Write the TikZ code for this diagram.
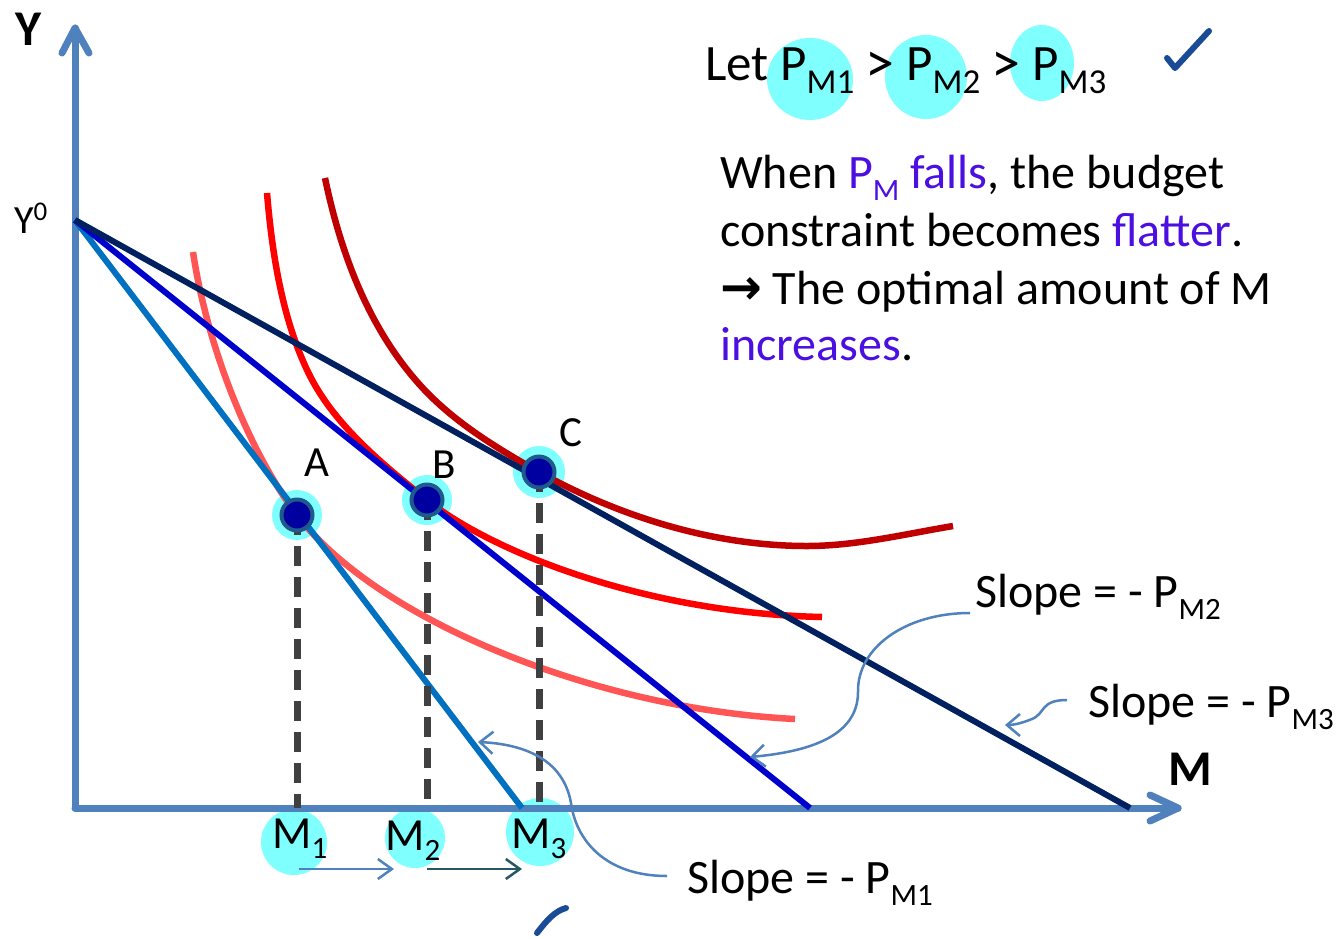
\documentclass[tikz,border=0pt]{standalone}
\usepackage{fontspec}
\setmainfont{Carlito}
\newfontfamily\dejavu{DejaVu Sans}
\usetikzlibrary{arrows.meta}
\definecolor{axisblue}{RGB}{79,129,189}
\definecolor{lblue}{RGB}{0,112,192}
\definecolor{mblue}{RGB}{0,0,204}
\definecolor{navy}{RGB}{0,32,96}
\definecolor{lred}{RGB}{255,85,85}
\definecolor{mred}{RGB}{255,0,0}
\definecolor{dred}{RGB}{192,0,0}
\definecolor{hl}{RGB}{128,255,255}
\definecolor{ptfill}{RGB}{0,0,160}
\definecolor{ptedge}{RGB}{31,90,140}
\definecolor{dashgray}{RGB}{64,64,64}
\definecolor{purp}{RGB}{75,15,225}
\definecolor{tealdk}{RGB}{38,88,100}
\definecolor{checkblue}{RGB}{25,75,150}
\newcommand\subL[1]{\raisebox{-13pt}{\fontsize{35}{35}\selectfont #1}}
\newcommand\subS[1]{\raisebox{-12pt}{\fontsize{31}{31}\selectfont #1}}
\newcommand\subM[1]{\raisebox{-10pt}{\fontsize{31}{31}\selectfont #1}}
\newcommand\bigGt{\raisebox{-2pt}{\fontsize{58}{58}\selectfont >}}
\tikzset{
  axisline/.style={draw=axisblue, line width=7pt, line cap=round, line join=round},
  budget/.style={line width=6pt},
  indiff/.style={line width=6.5pt},
  dashln/.style={draw=dashgray, line width=7pt, dash pattern=on 20pt off 11pt},
  ptnode/.style={circle, fill=ptfill, draw=ptedge, line width=4pt, minimum size=31pt, inner sep=0pt},
  txtbig/.style={inner sep=0pt, anchor=base west, font=\fontsize{51}{56}\selectfont},
  txt/.style={inner sep=0pt, anchor=base west, font=\fontsize{48}{56}\selectfont},
  mlbl/.style={inner sep=0pt, anchor=base west, font=\fontsize{46}{50}\selectfont},
  ptlbl/.style={inner sep=0pt, anchor=base west, font=\fontsize{43}{50}\selectfont},
  axlbl/.style={inner sep=0pt, anchor=base west, font=\bfseries\fontsize{50}{50}\selectfont},
  callout/.style={draw=axisblue, line width=2.5pt, -{Straight Barb[length=13pt,width=22pt]}},
  marr/.style={line width=2.5pt, -{Straight Barb[length=14pt,width=20pt]}},
  checkmk/.style={draw=checkblue, line width=6pt, line cap=round, line join=round}
}
\begin{document}
\begin{tikzpicture}[x=1pt,y=-1pt]
\fill[white] (0,0) rectangle (1340,938);
\useasboundingbox (0,0) rectangle (1340,938);

% coordinates
\coordinate (O) at (75,808);
\coordinate (Ytop) at (75,28);
\coordinate (Mend) at (1178,808);
\coordinate (Y0) at (75,220);
\coordinate (E1) at (522,808);
\coordinate (E2) at (810,808);
\coordinate (E3) at (1130,808);
\coordinate (pA) at (297,515);
\coordinate (pB) at (427,500);
\coordinate (pC) at (539,472);

% highlights
\fill[hl] (pA) circle (25pt);
\fill[hl] (pB) circle (25pt);
\fill[hl] (pC) circle (26pt);
\fill[hl] (294,842) circle (33pt);
\fill[hl] (415,838) circle (30pt);
\fill[hl] (540,832) circle (34pt);
\fill[hl] (810,79) ellipse (43pt and 41pt);
\fill[hl] (926,77) ellipse (41pt and 42pt);
\fill[hl] (1042,63) ellipse (32pt and 38pt);

% axes
\draw[axisline] (O) -- (Ytop);
\draw[axisline] (62,53) -- (Ytop) -- (89,53);
\draw[axisline] (O) -- (Mend);
\draw[axisline] (1150,795) -- (Mend) -- (1150,821);

% indifference curves
\draw[indiff, draw=lred] (193,252) .. controls (208,352) and (252,456) .. (pA)
   .. controls (377,620) and (595,709) .. (795,719);
\draw[indiff, draw=mred] (267,193) .. controls (272,253) and (282,318) .. (308,372)
   .. controls (333,424) and (382,464) .. (pB)
   .. controls (489,550) and (642,613) .. (822,617);
\draw[indiff, draw=dred] (325,178) .. controls (340,250) and (366,321) .. (413,377)
   .. controls (447,418) and (493,446) .. (pC)
   .. controls (620,517) and (714,546) .. (807,546)
   .. controls (856,546) and (905,534) .. (953,526);

% budget lines
\draw[budget, draw=lblue] (Y0) -- (E1);
\draw[budget, draw=mblue] (Y0) -- (E2);
\draw[budget, draw=navy] (Y0) -- (E3);

% dashed drop lines
\draw[dashln] (pA) -- (pA |- O);
\draw[dashln] (pB) -- (pB |- O);
\draw[dashln] (pC) -- (pC |- O);

% points
\node[ptnode] (A) at (pA) {};
\node[ptnode] (B) at (pB) {};
\node[ptnode] (C) at (pC) {};
\node[ptlbl] (Alab) at (304,476) {A};
\node[ptlbl] (Blab) at (432,478) {B};
\node[ptlbl] (Clab) at (559,446) {C};

% axis labels
\node[axlbl] (ylab) at (15,45) {Y};
\node[axlbl] (mlab) at (1168,785) {M};
\node[inner sep=0pt, anchor=base west, font=\fontsize{40}{40}\selectfont] (y0lab) at (14,233) {Y\raisebox{13pt}{\fontsize{27}{27}\selectfont 0}};

% M labels
\node[mlbl] (M1) at (272,848) {M\subM{1}};
\node[mlbl] (M2) at (385,850) {M\subM{2}};
\node[mlbl] (M3) at (511,848) {M\subM{3}};
\coordinate (a1s) at (299,869);
\coordinate (a1e) at (394,869);
\coordinate (a2s) at (427,869);
\coordinate (a2e) at (522,869);
\draw[marr, draw=axisblue] (a1s) -- (a1e);
\draw[marr, draw=tealdk] (a2s) -- (a2e);

% slope labels
\node[txt] (s2) at (975,607) {Slope = - P\subS{M2}};
\node[txt] (s3) at (1088,717) {Slope = - P\subS{M3}};
\node[txt] (s1) at (687,893) {Slope = - P\subS{M1}};
\coordinate (t2) at (750,757);
\coordinate (t3) at (1005,725);
\coordinate (t1) at (478,742);
\draw[callout] (970,613) .. controls (905,613) and (857,648) .. (858,692) .. controls (858,738) and (805,752) .. (t2);
\draw[callout] (1067,700) .. controls (1040,700) and (1046,713) .. (1032,719) .. controls (1022,723) and (1014,725) .. (t3);
\draw[callout] (667,876) .. controls (605,876) and (576,840) .. (571,803) .. controls (563,758) and (522,744) .. (t1);

% top text
\node[txtbig] (let) at (705,80) {Let P\subL{M1} \bigGt{} P\subL{M2} \bigGt{} P\subL{M3}};
\node[txt] (l1) at (720,188) {When \textcolor{purp}{P\subS{M} falls}, the budget};
\node[txt] (l2) at (720,246) {constraint becomes \textcolor{purp}{flatter}.};
\node[txt] (l3) at (720,304) {{\dejavu\bfseries\fontsize{50}{50}\selectfont →} The optimal amount of M};
\node[txt] (l4) at (720,360) {\textcolor{purp}{increases}.};

% check marks
\draw[checkmk] (1167,58) -- (1175,68) -- (1209,31);
\draw[checkmk] (537,933) .. controls (547,920) and (555,911) .. (566,908);
\end{tikzpicture}
\end{document}
